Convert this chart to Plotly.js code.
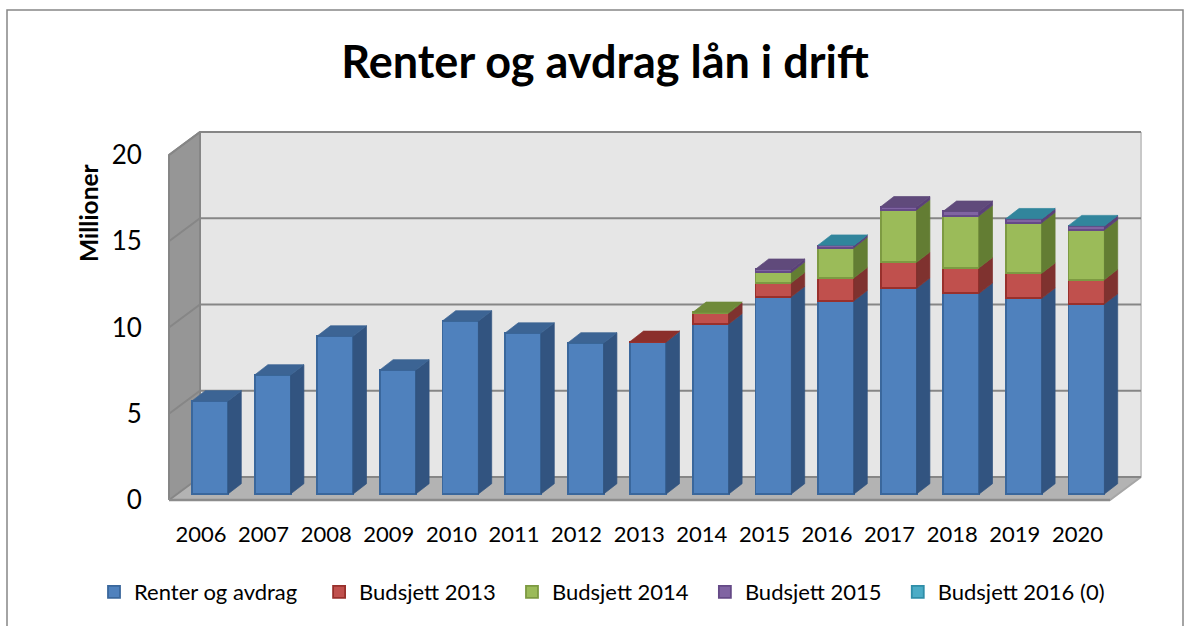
<!DOCTYPE html>
<html><head><meta charset="utf-8">
<script src="https://cdn.plot.ly/plotly-3.0.1.min.js"></script>
<style>html,body{margin:0;padding:0;background:#fff}#c{width:1193px;height:626px}</style>
</head><body><div id="c"></div>
<script>
const years = [2006,2007,2008,2009,2010,2011,2012,2013,2014,2015,2016,2017,2018,2019,2020];
const renter = [5.38,6.88,9.13,7.17,10.0,9.3,8.73,8.79,9.83,11.4,11.17,11.89,11.6,11.31,10.98];
const b2013  = [null,null,null,null,null,null,null,0.03,0.63,0.81,1.33,1.5,1.48,1.45,1.41];
const b2014  = [null,null,null,null,null,null,null,null,0.04,0.6,1.74,3.03,3.01,2.92,2.87];
const b2015  = [null,null,null,null,null,null,null,null,null,0.18,0.13,0.18,0.25,0.22,0.24];
const b2016  = [null,null,null,null,null,null,null,null,null,null,0.01,null,null,0.01,0.01];
const seriesNames = ['Renter og avdrag','Budsjett 2013','Budsjett 2014','Budsjett 2015','Budsjett 2016 (0)'];
const legendPads = [3,2,2,2,0];
const seriesValues = [renter,b2013,b2014,b2015,b2016];
const frontColors = ['#4f81bd','#c0504d','#9bbb59','#8064a2','#4bacc6'];
const lineColors  = ['#3a679c','#98302c','#7d9a42','#654a87','#2f8ea8'];
const sideColors  = ['#325480','#7f322f','#637d33','#5a4178','#2a7f93'];
const topColors   = ['#3c6494','#8b2f2b','#6f8a39','#604a7b','#31859c'];
const yTicks = [0,5,10,15,20];

const W=1193,H=626,L=160,R=1150,T=125,B=510;
const pxX=62.6, pxYFront=17.25, pxYBar=17.3;
// front-plane axes (labels and walls)
const xRange=[2006+(L-201)/pxX, 2006+(R-201)/pxX];
const yRange=[(500-B)/pxYFront,(500-T)/pxYFront];
// bar-plane axes, set back inside the walls
const x2Range=[2006+(L-210)/pxX, 2006+(R-210)/pxX];
const y2Range=[(494-B)/pxYBar,(494-T)/pxYBar];

const wallL=2006-32/pxX, wallR=2006+909/pxX, wallDX=31/pxX, wallDY=23/pxYFront;
const grey='#868686', lightEdge='#c8c8c8';
const traces=[];
const skip={showlegend:false,hoverinfo:'skip'};
// walls
traces.push({type:'scatter',mode:'lines',x:[wallL,wallL+wallDX,wallL+wallDX,wallL,wallL],y:[0,wallDY,20+wallDY,20,0],
  fill:'toself',fillcolor:'#969696',line:{color:grey,width:2},...skip});
traces.push({type:'scatter',mode:'lines',x:[wallL,wallR,wallR+wallDX,wallL+wallDX,wallL],y:[0,0,wallDY,wallDY,0],
  fill:'toself',fillcolor:'#b3b3b3',line:{color:'#a6a6a6',width:2},...skip});
traces.push({type:'scatter',mode:'lines',x:[wallL+wallDX,wallR+wallDX,wallR+wallDX,wallL+wallDX,wallL+wallDX],y:[wallDY,wallDY,20+wallDY,20+wallDY,wallDY],
  fill:'toself',fillcolor:'#e6e6e6',line:{color:'#e6e6e6',width:0},...skip});
// back wall edges
traces.push({type:'scatter',mode:'lines',x:[wallR+wallDX,wallR+wallDX],y:[wallDY,20+wallDY],line:{color:lightEdge,width:2},...skip});
traces.push({type:'scatter',mode:'lines',x:[wallL+wallDX,wallL+wallDX],y:[wallDY,20+wallDY],line:{color:grey,width:2},...skip});
// gridlines
const gx=[],gy=[];
yTicks.forEach(v=>{gx.push(wallL,wallL+wallDX,wallR+wallDX,null);gy.push(v,v+wallDY,v+wallDY,null);});
traces.push({type:'scatter',mode:'lines',x:gx,y:gy,line:{color:grey,width:2},...skip});
// front floor edge
traces.push({type:'scatter',mode:'lines',x:[wallL,wallR],y:[0,0],line:{color:'#8c8c8c',width:2.5},...skip});

// bars: front faces
const halfBar=0.2875, dDX=13.3/pxX, dDY=10.3/pxYBar;
seriesValues.forEach((vals,i)=>{
  traces.push({type:'bar',x:years,y:vals,name:seriesNames[i]+'\u00a0'.repeat(legendPads[i]),xaxis:'x2',yaxis:'y2',width:halfBar*2,
    marker:{color:frontColors[i],line:{color:lineColors[i],width:vals.map(v=>(v===null||v>0.02)?1.8:0)}}});
});
// depth: side faces and top faces, derived from the stacked values
seriesValues.forEach((vals,i)=>{
  const sx=[],sy=[],tx=[],ty=[];
  years.forEach((yr,k)=>{
    const v=vals[k]; if(!v) return;
    let base=0; for(let j=0;j<i;j++) base+=seriesValues[j][k]||0;
    const top=base+v, xl=yr-halfBar, xr=yr+halfBar;
    sx.push(xr,xr+dDX,xr+dDX,xr,xr,null);
    sy.push(base,base+dDY,top+dDY,top,base,null);
    let higher=0; for(let j=i+1;j<seriesValues.length;j++) higher+=seriesValues[j][k]||0;
    if(higher===0){
      tx.push(xl,xr,xr+dDX,xl+dDX,xl,null);
      ty.push(top,top,top+dDY,top+dDY,top,null);
    }
  });
  traces.push({type:'scatter',mode:'lines',x:sx,y:sy,xaxis:'x2',yaxis:'y2',fill:'toself',fillcolor:sideColors[i],
    line:{color:sideColors[i],width:0.7},...skip});
  traces.push({type:'scatter',mode:'lines',x:tx,y:ty,xaxis:'x2',yaxis:'y2',fill:'toself',fillcolor:topColors[i],
    line:{color:topColors[i],width:0.7},...skip});
});

const px=v=>(v-L)/(R-L), py=v=>(B-v)/(B-T);
const font='Lato, Carlito, sans-serif';
const layout={
  width:W,height:H,paper_bgcolor:'#fff',plot_bgcolor:'rgba(0,0,0,0)',
  margin:{l:L,r:W-R,t:T,b:H-B,autoexpand:false},
  font:{family:font,color:'#000'},
  barmode:'stack',
  title:{text:'<b>Renter og avdrag lån i drift</b>',font:{family:font,size:45,color:'#000'},
    x:605/W,xref:'container',xanchor:'center',y:1-62/H,yref:'container',yanchor:'middle'},
  xaxis:{type:'linear',range:xRange,tickmode:'array',tickvals:years,ticktext:years.map(String),
    showgrid:false,zeroline:false,showline:false,ticks:'outside',ticklen:5,tickcolor:'rgba(0,0,0,0)',
    tickfont:{family:font,size:22,color:'#000'}},
  yaxis:{range:yRange,tickmode:'array',tickvals:yTicks,showgrid:false,zeroline:false,showline:false,
    ticks:'outside',ticklen:12,tickcolor:'rgba(0,0,0,0)',tickfont:{family:font,size:26,color:'#000'}},
  xaxis2:{type:'linear',range:x2Range,overlaying:'x',visible:false},
  yaxis2:{range:y2Range,overlaying:'y',visible:false},
  legend:{orientation:'h',x:px(94),xanchor:'left',y:py(592),yanchor:'middle',
    font:{family:font,size:22,color:'#000'},bgcolor:'rgba(0,0,0,0)',traceorder:'normal'},
  annotations:[{text:'<b>Millioner</b>',textangle:-90,xref:'paper',yref:'paper',x:px(88),y:py(213),
    xanchor:'center',yanchor:'middle',showarrow:false,font:{family:font,size:24.5,color:'#000'}}],
  shapes:[{type:'path',xref:'paper',yref:'paper',layer:'below',
    path:`M ${px(7)} ${py(640)} L ${px(7)} ${py(10)} L ${px(1183)} ${py(10)} L ${px(1183)} ${py(640)}`,
    line:{color:grey,width:1.5}}]
};
Plotly.newPlot('c',traces,layout,{staticPlot:true,displayModeBar:false});
</script></body></html>
